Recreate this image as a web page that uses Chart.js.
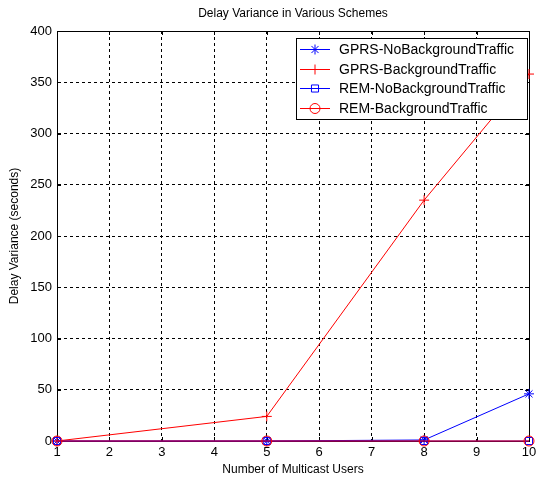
<!DOCTYPE html>
<html>
<head>
<meta charset="utf-8">
<script src="https://cdn.jsdelivr.net/npm/chart.js@4"></script>
<style>
  body { margin: 0; background: #fff; }
  #wrap { width: 537px; height: 484px; }
</style>
</head>
<body>
<div id="wrap"><canvas id="delay"></canvas></div>
<script>
// values
const users = [1, 5, 8, 10];
const gprsNoBg = [0, 0, 1, 46];
const gprsBg = [0, 24, 235, 358];
const remNoBg = [0, 0, 0, 0];
const remBg = [0, 0, 0, 0];
const seriesNames = ["GPRS-NoBackgroundTraffic", "GPRS-BackgroundTraffic", "REM-NoBackgroundTraffic", "REM-BackgroundTraffic"];
const xTicks = [1, 2, 3, 4, 5, 6, 7, 8, 9, 10];
const yTicks = [0, 50, 100, 150, 200, 250, 300, 350, 400];
const chartTitle = "Delay Variance in Various Schemes";

const fnt = "'Liberation Sans', Arial, sans-serif";
const clear = "rgba(0,0,0,0)";

function pts(vals) {
  return users.map((u, i) => ({ x: u, y: vals[i] }));
}

function ds(label, vals, color, style, ord) {
  return {
    label: label,
    data: pts(vals),
    borderColor: color,
    backgroundColor: clear,
    borderWidth: 1,
    pointStyle: style,
    pointRadius: 5,
    pointBorderColor: color,
    pointBorderWidth: 1,
    pointBackgroundColor: clear,
    tension: 0,
    clip: false,
    order: ord  // later series on top, like matlab
  };
}

const whiteBg = {
  id: "whiteBg",
  beforeDraw(chart) {
    const c = chart.ctx;
    c.save();
    c.fillStyle = "#fff";
    c.fillRect(0, 0, chart.width, chart.height);
    c.restore();
  }
};

// solid box round the axes, small inner ticks, title centred on the plot
const axesBox = {
  id: "axesBox",
  beforeDatasetsDraw(chart) {
    const c = chart.ctx;
    const a = chart.chartArea;
    const xs = chart.scales.x, ys = chart.scales.y;
    c.save();
    c.strokeStyle = "#000";
    c.lineWidth = 1;
    c.beginPath();
    c.rect(Math.round(a.left) + 0.5, Math.round(a.top) + 0.5,
      Math.round(a.right - a.left), Math.round(a.bottom - a.top));
    xTicks.forEach(v => {
      const px = Math.round(xs.getPixelForValue(v)) + 0.5;
      c.moveTo(px, a.bottom); c.lineTo(px, a.bottom - 4);
      c.moveTo(px, a.top); c.lineTo(px, a.top + 4);
    });
    yTicks.forEach(v => {
      const py = Math.round(ys.getPixelForValue(v)) + 0.5;
      c.moveTo(a.left, py); c.lineTo(a.left + 4, py);
      c.moveTo(a.right, py); c.lineTo(a.right - 4, py);
    });
    c.stroke();
    c.fillStyle = "#000";
    c.font = "12px " + fnt;
    c.textAlign = "center";
    c.textBaseline = "middle";
    c.fillText(chartTitle, (a.left + a.right) / 2, 14);
    c.restore();
  }
};

// matlab style legend box in the top right corner
const boxLegend = {
  id: "boxLegend",
  afterDraw(chart) {
    const c = chart.ctx;
    const a = chart.chartArea;
    const w = 231, h = 81;
    const x0 = Math.round(a.right - w - 2), y0 = Math.round(a.top + 7);
    c.save();
    c.fillStyle = "#fff";
    c.fillRect(x0, y0, w, h);
    c.strokeStyle = "#000";
    c.lineWidth = 1;
    c.strokeRect(x0 + 0.5, y0 + 0.5, w, h);
    c.font = "14px " + fnt;
    c.textBaseline = "middle";
    chart.data.datasets.forEach((d, i) => {
      const y = Math.round(y0 + 11 + i * 19.5) + 0.5;
      c.strokeStyle = d.borderColor;
      c.beginPath();
      c.moveTo(x0 + 4, y);
      c.lineTo(x0 + 34, y);
      c.stroke();
      c.fillStyle = clear;
      Chart.helpers.drawPoint(c, {
        pointStyle: d.pointStyle, radius: 5, borderWidth: 1, rotation: 0
      }, x0 + 19, y);
      c.fillStyle = "#000";
      c.fillText(d.label, x0 + 43, y + 1);
    });
    c.restore();
  }
};

new Chart(document.getElementById("delay"), {
  type: "line",
  data: {
    datasets: [
      ds(seriesNames[0], gprsNoBg, "#0000ff", "star", 4),
      ds(seriesNames[1], gprsBg, "#ff0000", "cross", 3),
      ds(seriesNames[2], remNoBg, "#0000ff", "rect", 2),
      ds(seriesNames[3], remBg, "#ff0000", "circle", 1)
    ]
  },
  options: {
    responsive: true,
    maintainAspectRatio: false,
    animation: false,
    layout: { padding: { left: 0, right: 8, top: 31, bottom: 0 } },
    plugins: {
      legend: { display: false },
      tooltip: { enabled: false },
      title: { display: false }
    },
    scales: {
      x: {
        type: "linear",
        min: 1,
        max: 10,
        afterBuildTicks: s => { s.ticks = xTicks.map(v => ({ value: v })); },
        afterFit: s => { s.height = 43; s.paddingRight = 0; s.paddingLeft = 0; },
        ticks: { color: "#000", font: { family: fnt, size: 13 }, padding: 4, maxRotation: 0 },
        grid: { color: "#000", drawTicks: false },
        border: { display: true, color: "#000", dash: [3, 3] },
        title: {
          display: true,
          text: "Number of Multicast Users",
          color: "#000",
          font: { family: fnt, size: 12 },
          padding: { top: 0, bottom: 7 }
        }
      },
      y: {
        min: 0,
        max: 400,
        afterBuildTicks: s => { s.ticks = yTicks.map(v => ({ value: v })); },
        afterFit: s => { s.width = 57; s.paddingTop = 0; s.paddingBottom = 0; },
        ticks: { color: "#000", font: { family: fnt, size: 13 }, padding: 5 },
        grid: { color: "#000", drawTicks: false },
        border: { display: true, color: "#000", dash: [3, 3] },
        title: {
          display: true,
          text: "Delay Variance (seconds)",
          color: "#000",
          font: { family: fnt, size: 12 },
          padding: { top: 7, bottom: 0 }
        }
      }
    }
  },
  plugins: [whiteBg, axesBox, boxLegend]
});
</script>
</body>
</html>
